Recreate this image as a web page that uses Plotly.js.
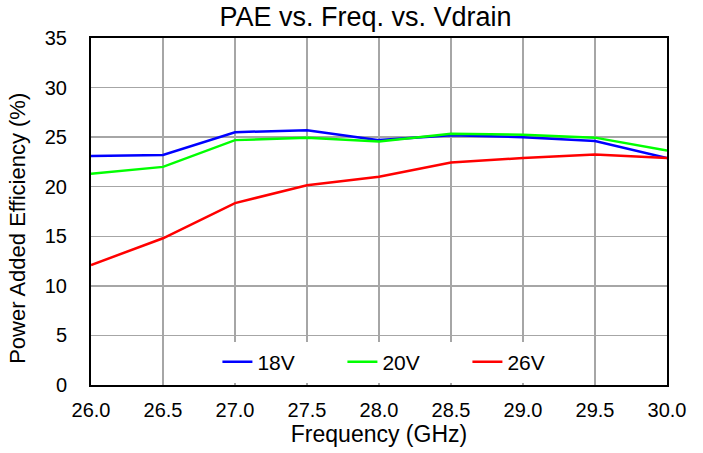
<!DOCTYPE html>
<html>
<head>
<meta charset="utf-8">
<script src="https://cdn.plot.ly/plotly-3.0.1.min.js"></script>
<style>
  html, body { margin: 0; padding: 0; background: #fff; }
  #chart { width: 703px; height: 453px; }
</style>
</head>
<body>
<div id="chart"></div>
<script>
// frequency points (GHz)
const freq = [26.0, 26.5, 27.0, 27.5, 28.0, 28.5, 29.0, 29.5, 30.0];
const tickLabels = ['26.0', '26.5', '27.0', '27.5', '28.0', '28.5', '29.0', '29.5', '30.0'];

// PAE (%) per drain voltage
const pae18 = [23.1, 23.2, 25.5, 25.7, 24.7, 25.2, 25.0, 24.6, 22.9];
const pae20 = [21.3, 22.0, 24.7, 24.95, 24.55, 25.35, 25.25, 24.95, 23.65];
const pae26 = [12.1, 14.8, 18.35, 20.15, 21.0, 22.45, 22.9, 23.25, 22.9];

const names = ['18V', '20V', '26V'];
const colors = ['#0000ff', '#00ff00', '#ff0000'];

const series = [pae18, pae20, pae26];
const traces = series.map((s, i) => ({
  type: 'scatter', mode: 'lines',
  x: freq, y: s, name: names[i],
  line: { color: colors[i], width: 2.5 }
}));

const fnt = 'Liberation Sans, Arial, sans-serif';

const layout = {
  width: 703, height: 453,
  margin: { l: 91, r: 36, t: 38, b: 68 },
  paper_bgcolor: '#fff', plot_bgcolor: '#fff',
  font: { family: fnt, size: 20, color: '#000' },
  title: { text: 'PAE vs. Freq. vs. Vdrain', font: { size: 27, family: fnt }, x: 0.52, xanchor: 'center', y: 0.985, yanchor: 'top', pad: { t: 0, b: 0 } },
  xaxis: {
    range: [26, 30], tickvals: freq, ticktext: tickLabels,
    showgrid: true, gridcolor: '#a6a6a6', gridwidth: 1.5,
    showline: true, linecolor: '#000', linewidth: 2, mirror: true,
    ticks: '', zeroline: false, ticklabelstandoff: 6,
    title: { text: 'Frequency (GHz)', font: { size: 23 }, standoff: 3 },
    tickfont: { size: 20 }
  },
  yaxis: {
    range: [0, 35], dtick: 5,
    showgrid: true, gridcolor: '#a6a6a6', gridwidth: 1.5,
    showline: true, linecolor: '#000', linewidth: 2, mirror: true,
    ticks: '', zeroline: false, ticklabelstandoff: 18,
    tickfont: { size: 20 }
  },
  annotations: [{
    text: 'Power Added Efficiency (%)', textangle: -90, showarrow: false,
    xref: 'paper', yref: 'paper', x: 0, y: 0.45, xshift: -73,
    xanchor: 'center', yanchor: 'middle', font: { size: 22 }
  }],
  legend: {
    orientation: 'h', x: 0.545, xanchor: 'center', y: 0.007, yanchor: 'bottom',
    bgcolor: '#fff', font: { size: 21 }, entrywidth: 80, itemwidth: 30
  },
  showlegend: true
};

Plotly.newPlot('chart', traces, layout, { displayModeBar: false, staticPlot: true });
</script>
</body>
</html>
